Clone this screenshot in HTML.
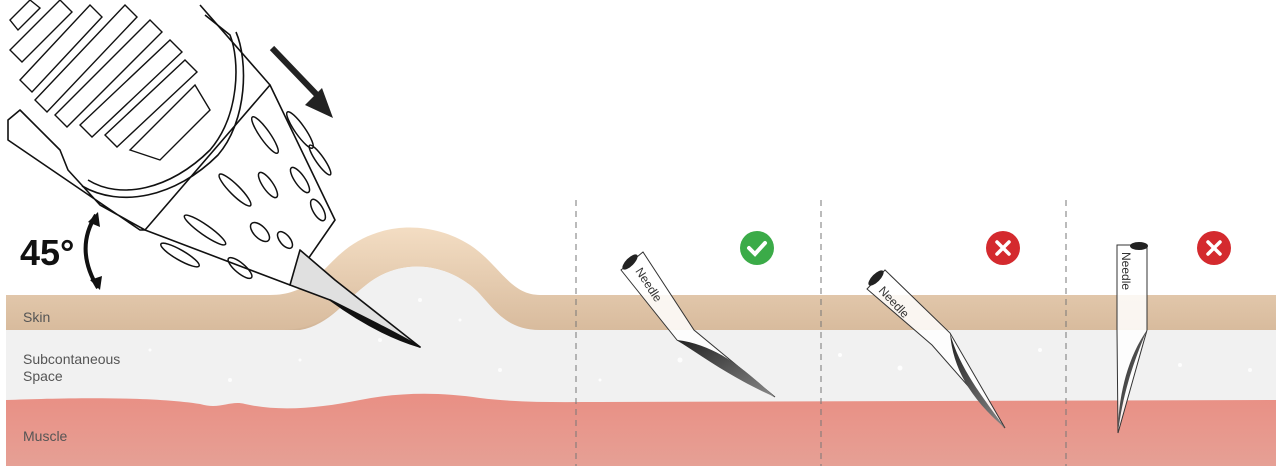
<!DOCTYPE html>
<html><head><meta charset="utf-8"><style>
html,body{margin:0;padding:0;background:#fff;width:1281px;height:470px;overflow:hidden}
svg{display:block}
text{font-family:"Liberation Sans",sans-serif}
</style></head><body>
<svg width="1281" height="470" viewBox="0 0 1281 470" xmlns="http://www.w3.org/2000/svg">
<defs>
<linearGradient id="sk" x1="0" y1="0" x2="0" y2="1"><stop offset="0" stop-color="#e2c8ac"/><stop offset="1" stop-color="#d2b597"/></linearGradient>
<linearGradient id="mu" x1="0" y1="0" x2="0" y2="1"><stop offset="0" stop-color="#e98f84"/><stop offset="1" stop-color="#e6a095"/></linearGradient>
<linearGradient id="bump" x1="0" y1="0" x2="0" y2="1"><stop offset="0" stop-color="#f3ddc3"/><stop offset="1" stop-color="#d8bb9d"/></linearGradient>
<linearGradient id="bev" x1="0" y1="0" x2="1" y2="1"><stop offset="0" stop-color="#222"/><stop offset="1" stop-color="#888"/></linearGradient>
</defs>
<rect x="6" y="295" width="1270" height="36" fill="url(#sk)"/>
<rect x="6" y="330" width="1270" height="90" fill="#f1f1f1"/>
<path d="M6 400 C60 398 150 396 200 404 C220 410 230 400 245 404 C280 412 320 408 360 400 C400 392 440 392 480 398 C520 403 560 402 600 402 L1276 400 L1276 466 L6 466 Z" fill="url(#mu)"/>
<path d="M6 295 L270 295 C310 295 320 270 345 250 C380 222 430 220 470 245 C500 265 510 295 540 295 L1276 295 L1276 330 L540 330 C500 330 490 300 470 285 C440 262 400 260 370 282 C340 305 325 330 280 330 L6 330 Z" fill="url(#bump)"/>
<path d="M370 282 C400 260 440 262 470 285 C490 300 500 330 540 330 L300 330 C330 325 345 300 370 282Z" fill="#f1f1f1"/>
<g fill="#fff" opacity="0.9">
<circle cx="420" cy="300" r="2"/><circle cx="460" cy="320" r="1.5"/><circle cx="380" cy="340" r="2"/><circle cx="300" cy="360" r="1.5"/><circle cx="230" cy="380" r="2"/><circle cx="150" cy="350" r="1.5"/><circle cx="500" cy="370" r="2"/><circle cx="680" cy="360" r="2.5"/><circle cx="740" cy="375" r="2"/><circle cx="840" cy="355" r="2"/><circle cx="900" cy="368" r="2.5"/><circle cx="1040" cy="350" r="2"/><circle cx="1180" cy="365" r="2"/><circle cx="1250" cy="370" r="2"/><circle cx="600" cy="380" r="1.5"/></g>
<text x="23" y="322" font-size="14" fill="#555">Skin</text>
<text x="23" y="364" font-size="14" fill="#555">Subcontaneous</text>
<text x="23" y="381" font-size="14" fill="#555">Space</text>
<text x="23" y="441" font-size="14" fill="#555">Muscle</text>
<g stroke="#777" stroke-dasharray="6,5" stroke-width="1"><line x1="576" y1="200" x2="576" y2="466"/><line x1="821" y1="200" x2="821" y2="466"/><line x1="1066" y1="200" x2="1066" y2="466"/></g>
<circle cx="757" cy="248" r="17" fill="#3bab48"/><path d="M749 248 l6 6 l10 -11" stroke="#fff" stroke-width="4" fill="none" stroke-linecap="round"/>
<circle cx="1003" cy="248" r="17" fill="#d42a2e"/><path d="M997 242 l12 12 M1009 242 l-12 12" stroke="#fff" stroke-width="3.5" stroke-linecap="round"/>
<circle cx="1214" cy="248" r="17" fill="#d42a2e"/><path d="M1208 242 l12 12 M1220 242 l-12 12" stroke="#fff" stroke-width="3.5" stroke-linecap="round"/>
<!-- needle 1 -->
<path d="M621 270 L643 252 L694 330 L775 397 L677 340 Z" fill="#fff" fill-opacity="0.85" stroke="#333" stroke-width="1"/>
<path d="M677 340 C720 345 750 375 775 397 C740 382 710 362 677 340Z" fill="url(#bev)"/>
<ellipse cx="630" cy="262" rx="4" ry="10" transform="rotate(45 630 262)" fill="#222"/>
<text x="0" y="0" font-size="12" fill="#333" transform="translate(635 271) rotate(57)">Needle</text>
<!-- needle 2 -->
<path d="M867 289 L885 270 L950 333 L1005 428 L932 345 Z" fill="#fff" fill-opacity="0.85" stroke="#333" stroke-width="1"/>
<path d="M950 333 C960 370 985 400 1005 428 C972 400 953 370 950 333Z" fill="url(#bev)"/>
<ellipse cx="876" cy="278" rx="4" ry="10" transform="rotate(45 876 278)" fill="#222"/>
<text x="0" y="0" font-size="12" fill="#333" transform="translate(878 291) rotate(47)">Needle</text>
<!-- needle 3 -->
<path d="M1117 245 L1147 245 L1147 330 L1118 433 L1117 330 Z" fill="#fff" fill-opacity="0.85" stroke="#333" stroke-width="1"/>
<path d="M1147 330 C1130 370 1122 400 1118 433 C1118 400 1126 360 1147 330Z" fill="url(#bev)"/>
<ellipse cx="1139" cy="246" rx="9" ry="4" fill="#222"/>
<text x="0" y="0" font-size="12" fill="#333" transform="translate(1122 252) rotate(90)">Needle</text>
<text x="20" y="265" font-size="36" font-weight="bold" fill="#111">45°</text>
<path d="M96 215 C80 240 84 265 98 288" stroke="#111" stroke-width="4" fill="none"/>
<path d="M88 222 L98 212 L100 227 Z M90 280 L100 290 L102 276Z" fill="#111"/>
<path d="M272 48 L318 96" stroke="#222" stroke-width="6"/>
<path d="M305 105 L333 118 L322 88 Z" fill="#222"/>
<g stroke="#111" stroke-width="1.6" fill="#fff" stroke-linejoin="round">
<path d="M8 120 L20 110 L60 150 L68 170 L100 205 L145 230 L140 230 L8 140 Z"/>
<path d="M145 230 L270 85 L335 220 L290 285 Z"/>
<path d="M88 180 C120 200 170 190 210 150 C240 115 240 60 230 35 L205 15" fill="none"/>
<path d="M82 186 C120 208 175 198 218 155 C248 120 248 60 236 32" fill="none"/>
<path d="M270 85 L200 5"/>
<path d="M300 250 L335 280 L420 347 L330 300 L290 285Z" fill="#e0e0e0"/>
<path d="M330 300 C370 320 400 335 420 347 C390 338 360 322 330 300Z" fill="#111"/>
</g>
<g stroke="#111" stroke-width="1.5" fill="none">
<ellipse cx="265" cy="135" rx="5" ry="22" transform="rotate(-35 265 135)"/>
<ellipse cx="300" cy="130" rx="5" ry="22" transform="rotate(-35 300 130)"/>
<ellipse cx="235" cy="190" rx="5" ry="22" transform="rotate(-45 235 190)"/>
<ellipse cx="268" cy="185" rx="5" ry="15" transform="rotate(-35 268 185)"/>
<ellipse cx="300" cy="180" rx="5" ry="15" transform="rotate(-35 300 180)"/>
<ellipse cx="205" cy="230" rx="5" ry="25" transform="rotate(-55 205 230)"/>
<ellipse cx="260" cy="232" rx="6" ry="12" transform="rotate(-45 260 232)"/>
<ellipse cx="318" cy="210" rx="5" ry="12" transform="rotate(-30 318 210)"/>
<ellipse cx="180" cy="255" rx="5" ry="22" transform="rotate(-60 180 255)"/>
<ellipse cx="240" cy="268" rx="5" ry="15" transform="rotate(-50 240 268)"/>
<ellipse cx="285" cy="240" rx="5" ry="10" transform="rotate(-40 285 240)"/>
<ellipse cx="320" cy="160" rx="4" ry="18" transform="rotate(-35 320 160)"/>
</g>
<g stroke="#111" stroke-width="1.4" fill="#fff">
<path d="M10 50 L60 0 L72 12 L22 62Z"/><path d="M20 80 L90 5 L102 17 L32 92Z"/>
<path d="M35 100 L125 5 L137 17 L47 112Z"/><path d="M55 115 L150 20 L162 32 L67 127Z"/>
<path d="M80 125 L170 40 L182 52 L92 137Z"/><path d="M105 135 L185 60 L197 72 L117 147Z"/>
<path d="M10 20 L30 0 L40 8 L18 30Z"/>
<path d="M130 150 L195 85 L210 110 L160 160Z"/>
</g>
</svg>
</body></html>
